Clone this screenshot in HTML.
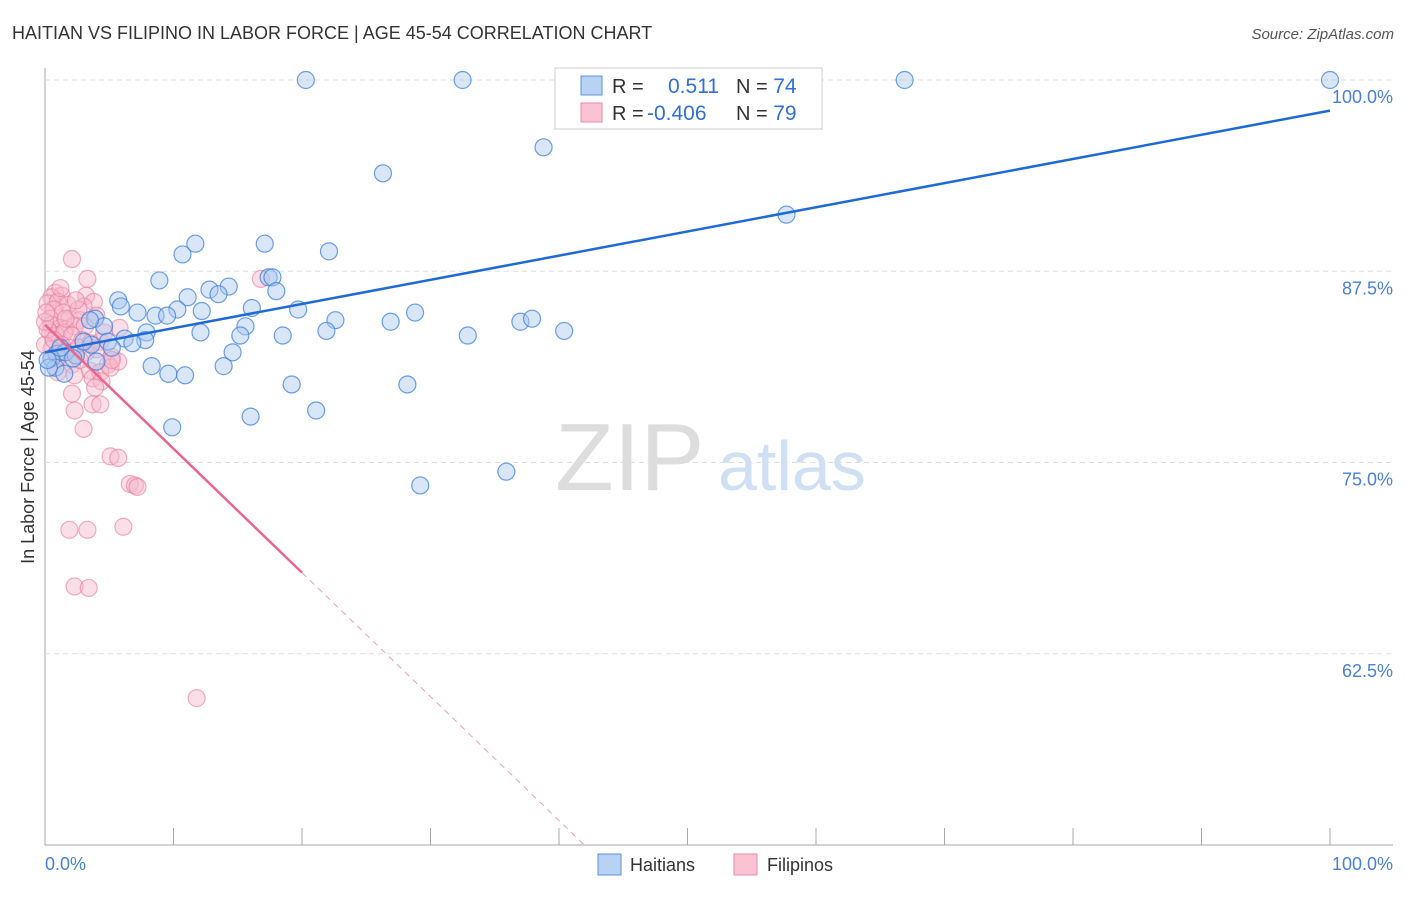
<!DOCTYPE html>
<html><head><meta charset="utf-8"><style>
body{margin:0;background:#fff;font-family:"Liberation Sans",sans-serif}
svg text{font-family:"Liberation Sans",sans-serif}
</style></head><body>
<svg id="chart" width="1406" height="892">
<text x="12" y="39" font-size="18" fill="#333">HAITIAN VS FILIPINO IN LABOR FORCE | AGE 45-54 CORRELATION CHART</text>
<text x="1394" y="39" font-size="15" fill="#555" text-anchor="end" font-style="italic">Source: ZipAtlas.com</text>
<text x="34" y="457" font-size="18" fill="#333" text-anchor="middle" transform="rotate(-90 34 457)">In Labor Force | Age 45-54</text>
<text x="555" y="490" font-size="96" fill="#ddd" font-family="Liberation Serif">ZIP</text>
<text x="718" y="490" font-size="70" fill="#cfe0f5">atlas</text>
<g id="grid"></g><g id="marks"></g>
<rect x="555" y="68" width="267" height="61" fill="#fff" stroke="#ccc"/>
<rect x="581" y="76" width="21" height="19" fill="#b8d2f4" stroke="#5b8fdc"/>
<rect x="581" y="103" width="21" height="19" fill="#f9c3d3" stroke="#ea8aa8"/>
<text x="612" y="93" font-size="20" fill="#333">R = <tspan fill="#2f6fd6" x="668" font-size="21">0.511</tspan><tspan x="736" fill="#333">N = </tspan><tspan fill="#2f6fd6" font-size="21">74</tspan></text>
<text x="612" y="120" font-size="20" fill="#333">R = <tspan fill="#2f6fd6" x="647" font-size="21">-0.406</tspan><tspan x="736" fill="#333">N = </tspan><tspan fill="#2f6fd6" font-size="21">79</tspan></text>
<rect x="598" y="854" width="23" height="21" fill="#b8d2f4" stroke="#5b8fdc"/>
<text x="630" y="871" font-size="18" fill="#333">Haitians</text>
<rect x="734" y="854" width="23" height="21" fill="#f9c3d3" stroke="#ea8aa8"/>
<text x="767" y="871" font-size="18" fill="#333">Filipinos</text>
<text x="45" y="870" font-size="18" fill="#4a7fd8">0.0%</text>
<text x="1393" y="870" font-size="18" fill="#4a7fd8" text-anchor="end">100.0%</text>
</svg>
<script>
const yTicks=[100,87.5,75,62.5];
const yTickLabels=["100.0%","87.5%","75.0%","62.5%"];
const xTicks=[10,20,30,40,50,60,70,80,90,100];
const haitiansX=[20.3,32.5,66.9,100,38.8,26.3,57.7,11.7,17.1,10.7,22.1,8.9,17.4,17.7,14.3,12.8,13.5,18.0,11.1,5.7,5.9,16.1,19.7,10.3,12.2,7.2,8.6,9.5,3.9,28.8,26.9,22.6,37.0,37.9,4.6,40.4,15.6,21.9,12.1,15.2,18.5,32.9,7.9,6.2,4.9,7.8,6.8,3.6,14.6,0.9,1.6,2.4,0.5,8.3,13.9,4.0,9.6,10.9,0.8,1.5,19.2,28.2,21.1,16.0,9.9,35.9,29.2,3.0,1.2,5.2,0.3,2.2,0.2,3.5];
const haitiansY=[100,100,100,100,95.6,93.9,91.2,89.3,89.3,88.6,88.8,86.9,87.1,87.1,86.5,86.3,86.0,86.2,85.8,85.6,85.2,85.1,85.0,85.0,84.9,84.8,84.6,84.6,84.4,84.8,84.2,84.3,84.2,84.4,83.9,83.6,83.9,83.6,83.5,83.3,83.3,83.3,83.5,83.1,82.9,83.0,82.8,82.7,82.2,82.1,82.2,82.0,81.8,81.3,81.3,81.6,80.8,80.7,81.2,80.8,80.1,80.1,78.4,78.0,77.3,74.4,73.5,82.9,82.5,82.5,81.2,81.8,81.7,84.3];
const filipinosX=[2.1,3.3,16.8,0.8,1.3,0.5,3.2,0.2,1.0,1.8,3.8,3.0,0.7,1.4,0.4,1.9,2.7,4.0,0.5,1.2,1.6,2.3,3.1,0.4,0.9,1.5,2.1,5.8,2.9,3.5,4.3,1.3,1.9,2.6,3.2,4.0,5.2,4.9,0.5,1.0,0,2.1,3.5,4.3,5.1,5.7,2.3,3.7,4.4,3.9,2.1,3.7,4.3,2.3,3.0,5.1,5.7,6.6,7.0,7.2,1.9,3.3,6.1,2.3,3.4,11.8,0.2,0.7,1.6,2.6,1.2,0,0.1,4.6,5.2,2.7,1.0,1.5,2.4];
const filipinosY=[88.3,87.0,87.0,86.1,85.9,85.8,85.9,85.4,85.5,85.3,85.5,85.2,85.0,84.8,84.4,84.4,84.3,84.6,84.0,83.8,83.7,83.9,83.9,83.5,83.3,83.5,83.3,83.8,83.0,82.8,82.9,82.7,82.5,82.5,82.2,82.4,81.9,81.4,82.4,81.8,82.7,81.4,81.0,80.9,81.2,81.6,80.7,80.5,80.3,79.9,79.5,78.8,78.8,78.4,77.2,75.4,75.3,73.6,73.5,73.4,70.6,70.6,70.8,66.9,66.8,59.6,83.7,83.0,84.4,85.0,86.4,84.2,84.8,83.5,81.7,81.7,80.9,82.2,85.6];
const haitiansTrend=[82.2,98.0];
const filipinosTrend=[84.0,67.8];
const filipinosTrendEndX=20;

const NS="http://www.w3.org/2000/svg";
const X0=45,X1=1330,Y0=80,Y1=845;
const sx=v=>X0+(X1-X0)*v/100;
const sy=v=>Y0+(Y1-Y0)*(100-v)/50;
function mk(tag,attrs,parent){const e=document.createElementNS(NS,tag);for(const k in attrs)e.setAttribute(k,attrs[k]);parent.appendChild(e);return e;}
const grid=document.getElementById('grid'),marks=document.getElementById('marks');
let ax=mk('line',{x1:45,y1:68,x2:45,y2:845,stroke:'#aaa'},grid);


let bx=mk('line',{x1:45,y1:845,x2:1393,y2:845,stroke:'#aaa'},grid);


yTicks.forEach((t,i)=>{
 const g=mk('line',{x1:45,y1:sy(t),x2:1393,y2:sy(t),stroke:'#ddd','stroke-dasharray':'5,4'},grid);
 
 
 const tx=mk('text',{x:1393,y:sy(t)+23,'font-size':18,fill:'#4a7fd8','text-anchor':'end'},grid);
 tx.textContent=yTickLabels[i];
 
 
});
xTicks.forEach(t=>{
 const l=mk('line',{x1:sx(t),y1:828,x2:sx(t),y2:845,stroke:'#aaa'},grid);
 
 
});
function pts(xs,ys,fill,stroke,name,so){
 xs.forEach((x,i)=>{
  const c=mk('circle',{cx:sx(x),cy:sy(ys[i]),r:8.5,fill:fill,'fill-opacity':0.45,stroke:stroke,'stroke-width':1.2,'stroke-opacity':so},marks);
  
  
 });
}
pts(filipinosX,filipinosY,'#f7b8cb','#e87a9b','filipino-point',0.6);
pts(haitiansX,haitiansY,'#a8c8f0','#3f7fdc','haitian-point',0.75);
let bl=mk('line',{x1:sx(0),y1:sy(haitiansTrend[0]),x2:sx(100),y2:sy(haitiansTrend[1]),stroke:'#1f6ad6','stroke-width':2.5},marks);


const slope=(filipinosTrend[1]-filipinosTrend[0])/filipinosTrendEndX;
let pl=mk('line',{x1:sx(0),y1:sy(filipinosTrend[0]),x2:sx(filipinosTrendEndX),y2:sy(filipinosTrend[1]),stroke:'#e8668f','stroke-width':2.5},marks);


const xEnd=(50-filipinosTrend[0])/slope;
let pd=mk('line',{x1:sx(filipinosTrendEndX),y1:sy(filipinosTrend[1]),x2:sx(xEnd),y2:sy(50),stroke:'#e8a0b8','stroke-width':1,'stroke-dasharray':'6,5'},marks);


</script>
</body></html>
